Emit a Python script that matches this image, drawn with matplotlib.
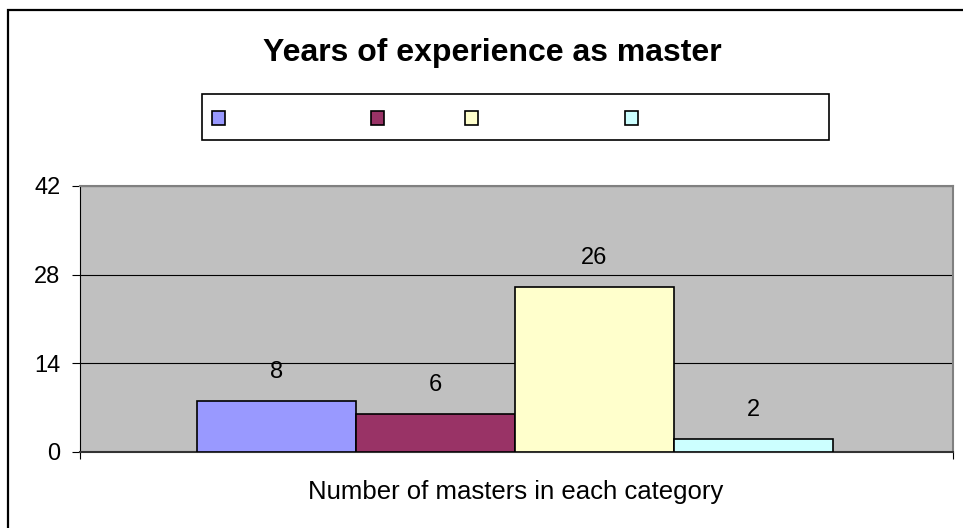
import matplotlib
matplotlib.use("Agg")
import matplotlib.pyplot as plt
from matplotlib.patches import Rectangle

plt.rcParams['font.family'] = ['Liberation Sans', 'DejaVu Sans']

# data
groups = ["", "", "", ""]
values = [8, 6, 26, 2]
colors = ["#9999FF", "#993366", "#FFFFCC", "#CCFFFF"]
yticks = [0, 14, 28, 42]

W, H = 963, 528
fig = plt.figure(figsize=(W / 100, H / 100), dpi=100)

# outer chart border (runs off the right/bottom of the image)
fig.patches.append(Rectangle((8 / W, -0.1), 1.1, 1 - 10 / H + 0.1, transform=fig.transFigure,
                             fill=False, edgecolor="black", linewidth=1.6))

ax = fig.add_axes([80 / W, (H - 452) / H, (953 - 80) / W, (452 - 186) / H])
ax.set_facecolor("#C0C0C0")

x = list(range(len(values)))
bars = ax.bar(x, values, width=1.0, color=colors, edgecolor="black", linewidth=1.2, zorder=3)

for xi, v in zip(x, values):
    ax.annotate(str(v), (xi, v), xytext=(0, 21), textcoords="offset points",
                ha="center", va="center", fontsize=17)

ax.set_ylim(0, 42)
ax.set_yticks(yticks)
ax.set_xlim(-1.236, 4.255)
ax.set_xticks([-1.236, 4.255])
ax.set_xticklabels(["", ""])
ax.tick_params(axis="y", direction="out", length=6, width=0.8, labelsize=17, pad=8)
ax.tick_params(axis="x", direction="out", length=5, width=0.8)
ax.yaxis.grid(True, color="black", linewidth=0.8, zorder=1)
ax.set_axisbelow(True)

ax.spines["left"].set_color("black")
ax.spines["left"].set_linewidth(0.8)
ax.spines["bottom"].set_color("#333333")
ax.spines["bottom"].set_linewidth(1.5)
ax.spines["top"].set_color("#808080")
ax.spines["top"].set_linewidth(1.5)
ax.spines["right"].set_color("#808080")
ax.spines["right"].set_linewidth(1.5)

fig.text(492 / W, 1 - 53 / H, "Years of experience as master", ha="center", va="center",
         fontsize=23, fontweight="bold")
fig.text(516 / W, 1 - 492 / H, "Number of masters in each category", ha="center", va="center",
         fontsize=18.5)

# legend box (labels are blank in the original)
fig.patches.append(Rectangle((202 / W, 1 - 140 / H), (829 - 202) / W, (140 - 94) / H,
                             transform=fig.transFigure, facecolor="white", edgecolor="black",
                             linewidth=1.2))
for cx, c in zip([218, 377, 471, 631], colors):
    fig.patches.append(Rectangle(((cx - 6.5) / W, 1 - (118 + 6.5) / H), 13 / W, 13 / H,
                                 transform=fig.transFigure, facecolor=c, edgecolor="black",
                                 linewidth=1.2))

fig.savefig("out.png", dpi=100)
